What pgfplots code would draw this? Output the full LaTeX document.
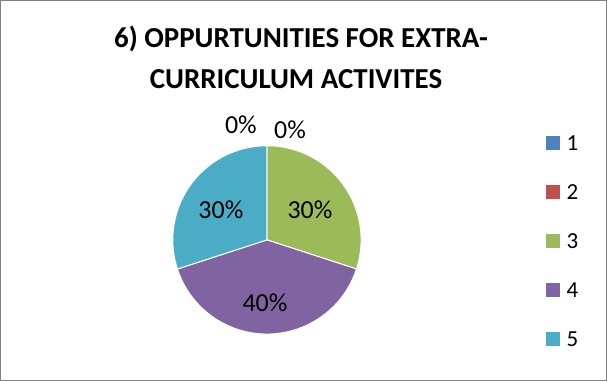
\documentclass[border=0pt]{standalone}
\usepackage{pgfplots}
\usepackage{pgfplotstable}
\pgfplotsset{compat=1.18}
\usepackage{fontspec}
\setmainfont{Carlito}
\definecolor{c1}{HTML}{4F81BD}
\definecolor{c2}{HTML}{C0504D}
\definecolor{c3}{HTML}{9BBB59}
\definecolor{c4}{HTML}{8064A2}
\definecolor{c5}{HTML}{4BACC6}
\pgfplotstableread{
cat value color lx ly
1 0 c1 290 251
2 0 c2 241 256
3 30 c3 310 171
4 40 c4 265 78
5 30 c5 221 171
}\piedata
\begin{document}
\begin{tikzpicture}
\begin{axis}[
  scale only axis, width=607bp, height=381bp,
  xmin=0, xmax=607, ymin=0, ymax=381,
  hide axis, clip=false,
  legend style={at={(axis cs:545,140)}, anchor=west, draw=none, fill=none,
    font=\fontsize{23}{23}\selectfont, row sep=34bp, inner sep=0pt,
    nodes={inner sep=0pt, text depth=0pt}},
  legend cell align=left,
  legend image code/.code={\fill[#1, draw=none] (0bp,-7bp) rectangle (14bp,7bp); \path[draw=none, fill=none] (0bp,0bp) -- (21bp,0bp);},
]
\draw[color=black!50, line width=1bp] (axis cs:1,1) rectangle (axis cs:606,380);
\node[font=\bfseries\fontsize{29}{29}\selectfont] at (axis cs:301,342) {6) OPPURTUNITIES FOR EXTRA-};
\node[font=\bfseries\fontsize{29}{29}\selectfont] at (axis cs:296,302) {CURRICULUM ACTIVITES};
\def\cum{0}
\pgfplotsforeachungrouped \i in {0,...,4}{%
  \pgfplotstablegetelem{\i}{value}\of\piedata \let\v=\pgfplotsretval
  \pgfplotstablegetelem{\i}{color}\of\piedata \let\c=\pgfplotsretval
  \pgfplotstablegetelem{\i}{lx}\of\piedata \let\lx=\pgfplotsretval
  \pgfplotstablegetelem{\i}{ly}\of\piedata \let\ly=\pgfplotsretval
  \pgfmathsetmacro\a{90-3.6*\cum}%
  \pgfmathsetmacro\b{90-3.6*(\cum+\v)}%
  \pgfmathsetmacro\cum{\cum+\v}%
  \ifdim\v pt>0pt
    \edef\doit{\noexpand\fill[\c, draw=white, line width=1bp] (axis cs:267,141) -- ([shift={(\a:94bp)}]axis cs:267,141) arc[start angle=\a, end angle=\b, radius=94bp] -- cycle;}%
    \doit
  \fi
  \edef\dolab{\noexpand\node[font=\noexpand\fontsize{26}{26}\noexpand\selectfont] at (axis cs:\lx,\ly) {\v\noexpand\%};}%
  \dolab
}
\addlegendimage{fill=c1}\addlegendentry{1}
\addlegendimage{fill=c2}\addlegendentry{2}
\addlegendimage{fill=c3}\addlegendentry{3}
\addlegendimage{fill=c4}\addlegendentry{4}
\addlegendimage{fill=c5}\addlegendentry{5}
\end{axis}
\end{tikzpicture}
\end{document}
